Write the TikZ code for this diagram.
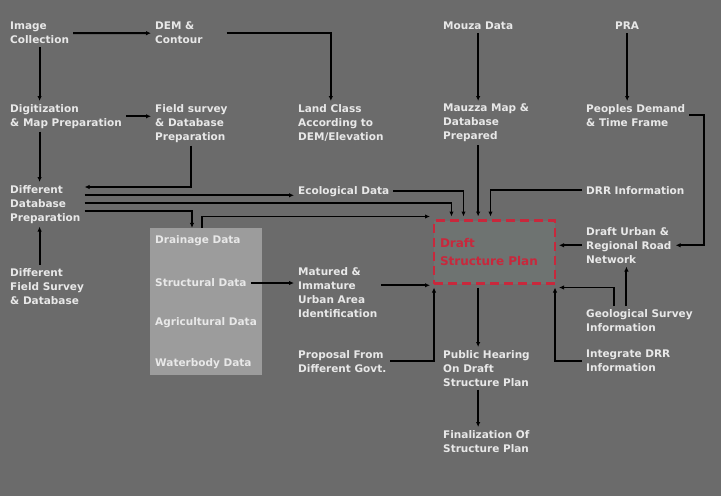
\documentclass[tikz,border=0pt]{standalone}
\usepackage{fontspec}
\setmainfont{DejaVu Sans}
\usetikzlibrary{arrows.meta,positioning}
\definecolor{bggray}{HTML}{6B6B6B}
\definecolor{boxgray}{HTML}{9C9C9C}
\definecolor{lightink}{HTML}{E8E8E8}
\definecolor{planred}{HTML}{C8283C}
\definecolor{planfill}{HTML}{6E7371}
\tikzset{
  item/.style={
    text=lightink,
    font=\bfseries\fontsize{10.5}{14}\selectfont,
    align=left,
    anchor=north west,
    inner xsep=4pt,
    inner ysep=3pt
  },
  datalabel/.style={
    item,
    anchor=west
  },
  databox/.style={
    fill=boxgray,
    minimum width=112pt,
    minimum height=147pt,
    inner sep=0pt
  },
  planbox/.style={
    draw=planred,
    dash pattern=on 9pt off 5pt,
    line width=2.6pt,
    fill=planfill,
    text=planred,
    font=\bfseries\fontsize{12}{18}\selectfont,
    align=left,
    text width=109pt,
    minimum height=63pt,
    inner xsep=6pt,
    outer sep=4pt
  },
  flow/.style={
    -{Latex[length=5pt,width=4.5pt]},
    draw=black,
    line width=1.9pt
  }
}

\begin{document}
\begin{tikzpicture}[x=1pt, y=-1pt]
  \fill[bggray] (0,0) rectangle (721,496);
  \useasboundingbox (0,0) rectangle (721,496);

  % top row
  \node[item] (img) at (6,19) {Image\\Collection};
  \node[item] (dem) at (151,19) {DEM \&\\Contour};
  \node[item] (mouza) at (439,19) {Mouza Data};
  \node[item] (pra) at (611,19) {PRA};

  % second row
  \node[item] (digit) at (6,101) {Digitization\\\& Map Preparation};
  \node[item] (field) at (151,101) {Field survey\\\& Database\\Preparation};
  \node[item] (land) at (294,101) {Land Class\\According to\\DEM/Elevation};
  \node[item] (mmap) at (439,101) {Mauzza Map \&\\Database\\Prepared};
  \node[item] (people) at (582,101) {Peoples Demand\\\& Time Frame};

  % middle
  \node[item] (diffdb) at (6,182) {Different\\Database\\Preparation};
  \node[item] (eco) at (294,183) {Ecological Data};
  \node[item] (drr) at (582,183) {DRR Information};
  \node[item] (road) at (582,224) {Draft Urban \&\\Regional Road\\Network};
  \node[item] (fieldsurv) at (6,265) {Different\\Field Survey\\\& Database};

  \node[databox] (datab) at (206,301.5) {};
  \node[datalabel] (drain) at (151,241) {Drainage Data};
  \node[datalabel] (struct) at (151,283) {Structural Data};
  \node[datalabel] (agri) at (151,323) {Agricultural Data};
  \node[datalabel] (water) at (151,364) {Waterbody Data};

  \node[planbox] (plan) at (494.5,252) {Draft\\Structure Plan};

  \node[item] (matured) at (294,264) {Matured \&\\Immature\\Urban Area\\Identification};
  \node[item] (geo) at (582,306) {Geological Survey\\Information};

  % bottom
  \node[item] (proposal) at (294,347) {Proposal From\\Different Govt.};
  \node[item] (public) at (439,347) {Public Hearing\\On Draft\\Structure Plan};
  \node[item] (intdrr) at (582,347) {Integrate DRR\\Information};
  \node[item] (final) at (439,427) {Finalization Of\\Structure Plan};

  % helper points
  \coordinate (db1) at ([yshift=9pt]diffdb.east);
  \coordinate (db2) at ([yshift=1pt]diffdb.east);
  \coordinate (db3) at ([yshift=-7pt]diffdb.east);
  \coordinate (bendR) at ([xshift=15pt]people.east);
  \coordinate (geoA) at ([xshift=-25pt]geo.north);
  \coordinate (geoB) at ([xshift=-13pt]geo.north);
  \coordinate (mat1) at ([yshift=7pt]matured.east);

  % left chain
  \draw[flow] (img.east) -- (dem.west);
  \draw[flow] ([xshift=20pt]dem.east) -| ([xshift=-10pt]land.north);
  \draw[flow] (img.south) -- (img.south |- digit.north);
  \draw[flow] (digit.east) -- (digit.east -| field.west);
  \draw[flow] (img.south |- digit.south) -- (img.south |- diffdb.north);
  \draw[flow] (field.south) |- ([yshift=-5pt]diffdb.north east);
  \draw[flow] (img.south |- fieldsurv.north) -- (img.south |- diffdb.south);

  % database lines
  \draw[flow] (db1) -- (db1 -| eco.west);
  \draw[flow] (eco.east) -| ([xshift=-31pt]plan.north);
  \draw[flow] (db2) -| ([xshift=-43pt]plan.north);
  \draw[flow] (db3) -| ([xshift=-14pt]datab.north);
  \draw[flow] ([xshift=-4pt]datab.north) |- (plan.north west);
  \draw[flow] (struct.east) -- (struct.east -| matured.west);
  \draw[flow] (mat1) -- (mat1 -| plan.west);
  \draw[flow] (proposal.east) -| ([xshift=4pt]plan.south west);

  % right side
  \draw[flow] (mouza.south) -- (mouza.south |- mmap.north);
  \draw[flow] (mouza.south |- mmap.south) -- (mouza.south |- plan.north);
  \draw[flow] (pra.south) -- (pra.south |- people.north);
  \draw[flow] (people.east) -- (bendR) |- (road.east);
  \draw[flow] (drr.west) -| ([xshift=-4pt]plan.north);
  \draw[flow] (road.west) -- (road.west -| plan.east);
  \draw[flow] (geoB) -- (geoB |- road.south);
  \draw[flow] (geoA) |- (plan.south east);
  \draw[flow] (intdrr.west) -| ([xshift=-4pt]plan.south east);

  % output
  \draw[flow] (mouza.south |- plan.south) -- (mouza.south |- public.north);
  \draw[flow] (mouza.south |- public.south) -- (mouza.south |- final.north);
\end{tikzpicture}
\end{document}
